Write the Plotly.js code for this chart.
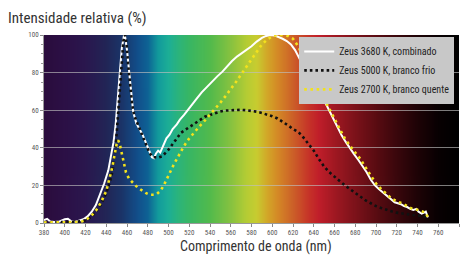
<!DOCTYPE html>
<html>
<head>
<meta charset="utf-8">
<script src="https://cdn.plot.ly/plotly-3.0.1.min.js"></script>
<style>html,body{margin:0;padding:0;background:#fff;}#chart{width:462px;height:260px;}</style>
</head>
<body>
<div id="chart"></div>
<script>
// Zeus 3680 K, combinado (white)
const wlWhite = [380,383,386,390,395,400,403,406,410,414,418,422,426,430,434,438,442,445,447,449,451,453,455,457,458,460,462,464,466,469,472,475,478,481,484,486,488,490,492,494,496,498,501,504,508,511,515,518,522,527,532,537,542,547,552,556,561,566,571,575,580,585,590,594,598,602,606,610,614,618,622,626,630,634,638,642,646,650,653,656,659,663,667,671,675,679,683,687,691,695,699,703,707,711,715,718,721,724,727,730,733,736,739,741,744,746,748,750];
const valWhite = [1.5,2.2,0.8,0.5,0.8,2.0,2.2,1.0,0.6,1.2,2.0,3.5,6,9.5,15,21,28,36,43,52,66,79,93,99.5,99.8,92,80,68,59,53,50,47,43,39,35,34.5,37,38.5,37.5,40,43,45,47,50,52.5,55,57.5,59.5,62.5,66,69.5,72.5,75.5,78,80.5,83,86,88.5,90.5,92,94,96.5,98.5,99.5,100,99.8,99,98,96.8,95,92,88,83.5,79,75.5,72,69,65,62,58.5,55,50.5,46.5,43,39.5,36.5,33.5,30.5,27,23,20,18,16,14,12,11,10.5,10,9,8.5,7.5,7,7.5,6,5,5.5,6,3];

// Zeus 5000 K, branco frio (black dotted)
const wlCold = [380,390,400,410,416,420,425,430,435,440,443,445,447,449,451,453,455,456.5,458,459.5,461,463,465,467,470,473,476,479,482,485,488,491,494,497,500,504,508,512,516,520,525,530,535,540,545,550,555,560,565,570,575,580,585,590,595,600,605,610,615,620,625,630,635,640,645,650,655,660,665,670,675,680,685,690,695,700,705,710,715,720,725,730,735,740,745,750];
const valCold = [0.3,0.3,0.5,0.6,1,1.5,3,6,10,16,21,25,31,40,55,70,85,97,100,96,85,73,63,57,53,50,46,41,37,35,35,35,35.5,37,39,42,45,48,49.5,51,53,55,56.5,57.5,58.5,59.3,59.8,60,60.2,60.2,60,59.7,59.2,58.5,57.7,56.8,55.6,54,52,50,48.5,45.5,42,38.5,34,30,27,24.5,22,20,18,16,14,12,10.5,9,8,7,6.2,5.5,5,4.6,4.3,4,3.6,3.2];

// Zeus 2700 K, branco quente (yellow dotted)
const wlWarm = [380,390,400,410,415,420,425,430,435,440,443,446,448,450,451.5,453,455,457,459,462,466,470,474,478,482,486,489,492,495,498,501,505,510,515,520,525,530,535,540,545,550,555,560,565,570,575,580,585,590,595,600,605,610,615,620,625,630,635,640,645,650,655,660,665,670,675,680,685,690,695,700,705,710,715,720,725,730,735,740,745,748,750];
const valWarm = [0.3,0.3,0.3,0.3,0.5,1.5,3.5,6.5,11,17,23,30,36,42,44,42,37,31,27,23.5,21,19,17.5,16,15,15,15.5,17,19.5,23,27,31,36,41,45,48.5,51.5,54.5,57.5,60.5,64,67.5,71,75,79,83,87.5,91.5,95,97.5,99.3,100,100,99.5,98,94,88,81.5,76,71,66,61,55.5,50,45,41,37.5,34,29.5,25,21,18,15.5,13,11.5,10.5,9,7.5,7,6,5.5,3];

const seriesNames = ["Zeus 3680 K, combinado", "Zeus 5000 K, branco frio", "Zeus 2700 K, branco quente"];
const xTicks = [380,400,420,440,460,480,500,520,540,560,580,600,620,640,660,680,700,720,740,760,780];
const yTicks = [0,20,40,60,80,100];

// spectrum background
const specStops = [
  [380,'#2a0c3c'],[400,'#2c1046'],[420,'#2a174e'],[440,'#222556'],[455,'#1a3468'],
  [470,'#124e8a'],[480,'#0e6294'],[490,'#129a9c'],[500,'#1cae96'],[510,'#2cb47a'],
  [520,'#38b664'],[540,'#52ba4c'],[560,'#86c240'],[575,'#b4cc34'],[585,'#c8cc30'],
  [595,'#d2a828'],[605,'#d48a26'],[620,'#cc6028'],[635,'#c63428'],[645,'#c01e2a'],
  [660,'#a01822'],[680,'#7c121a'],[700,'#5a0c12'],[720,'#3a070c'],[740,'#1e0306'],
  [760,'#080002'],[780,'#000000']
];
const cv = document.createElement('canvas');
cv.width = 800; cv.height = 2;
const ctx = cv.getContext('2d');
const grd = ctx.createLinearGradient(0,0,800,0);
specStops.forEach(s => grd.addColorStop((s[0]-380)/400, s[1]));
ctx.fillStyle = grd; ctx.fillRect(0,0,800,2);
const bgURL = cv.toDataURL('image/png');

const narrow = '"Liberation Sans Narrow", "Roboto Condensed", Roboto, sans-serif';

const traces = [
  {x: wlWhite, y: valWhite, name: seriesNames[0], type:'scatter', mode:'lines',
   line:{color:'#ffffff', width:2}},
  {x: wlCold, y: valCold, name: seriesNames[1], type:'scatter', mode:'lines',
   line:{color:'#111111', width:2.6, dash:'2.6px,3px'}},
  {x: wlWarm, y: valWarm, name: seriesNames[2], type:'scatter', mode:'lines',
   line:{color:'#f2e21e', width:2.6, dash:'2.6px,3.6px'}}
];

const layout = {
  width:462, height:260,
  margin:{l:44, r:3, t:35, b:37},
  paper_bgcolor:'#ffffff',
  plot_bgcolor:'#000000',
  showlegend:true,
  title:{text:'Intensidade relativa (%)', font:{family:narrow, size:15, color:'#333333'},
         xref:'container', yref:'container', x:8/462, xanchor:'left', y:1-18/260, yanchor:'middle'},
  xaxis:{range:[380,780], tickvals:xTicks, ticktext:xTicks.map(String), showgrid:false,
         ticks:'outside', ticklen:3, tickcolor:'#888', showline:true, linecolor:'#999', linewidth:1,
         tickfont:{family:narrow, size:7, color:'#555'}, zeroline:false, fixedrange:true},
  yaxis:{range:[0,100], tickvals:yTicks, ticktext:yTicks.map(String), showgrid:true,
         gridcolor:'rgba(190,190,190,0.65)', gridwidth:1,
         ticks:'outside', ticklen:3, tickcolor:'#888', showline:true, linecolor:'#999', linewidth:1,
         minor:{dtick:5, ticks:'outside', ticklen:2, tickcolor:'#999', showgrid:false},
         tickfont:{family:narrow, size:7, color:'#555'}, zeroline:false, fixedrange:true},
  annotations:[{text:'Comprimento de onda (nm)', xref:'paper', yref:'paper',
         x:(256-44)/415, y:-(246-223)/188, xanchor:'center', yanchor:'middle', showarrow:false,
         font:{family:narrow, size:14, color:'#333333'}}],
  legend:{x:0.615, y:0.99, xanchor:'left', yanchor:'top', bgcolor:'#c8c8c8', borderwidth:0,
          font:{family:narrow, size:10, color:'#222'}, tracegroupgap:0, itemwidth:30},
  images:[{source:bgURL, xref:'x', yref:'y', x:380, y:100, sizex:400, sizey:100,
           sizing:'stretch', layer:'below', xanchor:'left', yanchor:'top'}]
};

Plotly.newPlot('chart', traces, layout, {displayModeBar:false, staticPlot:true});
</script>
</body>
</html>
